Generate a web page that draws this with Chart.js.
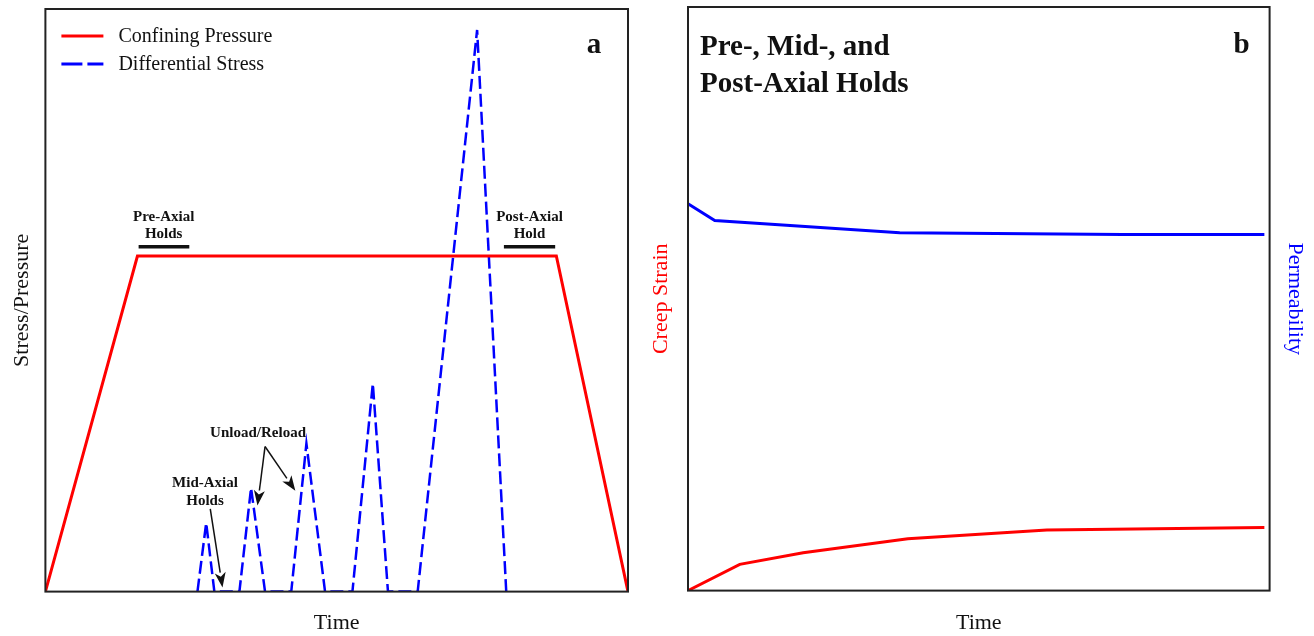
<!DOCTYPE html>
<html>
<head>
<meta charset="utf-8">
<script src="https://cdn.jsdelivr.net/npm/chart.js@4.4.1/dist/chart.umd.min.js"></script>
<style>
  html, body { margin: 0; padding: 0; background: #fff; }
  #wrapA { position: absolute; left: 0; top: 0; width: 640px; height: 636px; }
  #wrapB { position: absolute; left: 640px; top: 0; width: 674px; height: 636px; }
</style>
</head>
<body>
<div id="wrapA"><canvas id="chartA"></canvas></div>
<div id="wrapB"><canvas id="chartB"></canvas></div>
<script>
// panel a: loading path (time and stress in arbitrary units, 0-100)
const confiningTime = [0, 15.8, 87.7, 100];
const confiningPressure = [0, 57.6, 57.6, 0];
const diffTime = [26.1, 27.6, 29.0, 33.3, 35.3, 37.7, 42.2, 44.8, 48.0, 52.7, 56.2, 58.8, 63.9, 74.1, 79.1];
const diffStress = [0, 11.8, 0, 0, 17.8, 0, 0, 25.4, 0, 0, 35.7, 0, 0, 96.4, 0];

// panel b: creep strain and permeability against time
const creepTime = [0, 8.9, 19.8, 37.8, 61.7, 99.1];
const creepStrain = [0, 4.5, 6.5, 8.9, 10.4, 10.8];
const permTime = [0, 4.6, 36.4, 74.7, 99.1];
const permeability = [66.3, 63.4, 61.3, 61.0, 61.0];

const SERIF = "'Liberation Serif', 'Times New Roman', serif";
const RED = "#ff0000";
const BLUE = "#0000ff";

function toPoints(xs, ys) {
  return xs.map((x, i) => ({ x: x, y: ys[i] }));
}

// frame around the plot area
const framePlugin = {
  id: "frame",
  afterDraw(chart) {
    const a = chart.chartArea;
    const ctx = chart.ctx;
    ctx.save();
    ctx.strokeStyle = "#222";
    ctx.lineWidth = 2;
    ctx.strokeRect(a.left, a.top, a.right - a.left, a.bottom - a.top);
    ctx.restore();
  }
};

function arrow(ctx, x1, y1, x2, y2) {
  const ang = Math.atan2(y2 - y1, x2 - x1);
  const len = 15, half = 5.5;
  const bx = x2 - len * Math.cos(ang), by = y2 - len * Math.sin(ang);
  ctx.beginPath();
  ctx.moveTo(x1, y1);
  ctx.lineTo(bx, by);
  ctx.stroke();
  ctx.beginPath();
  ctx.moveTo(x2, y2);
  ctx.lineTo(bx + half * Math.sin(ang), by - half * Math.cos(ang));
  ctx.lineTo(x2 - (len - 4) * Math.cos(ang), y2 - (len - 4) * Math.sin(ang));
  ctx.lineTo(bx - half * Math.sin(ang), by + half * Math.cos(ang));
  ctx.closePath();
  ctx.fill();
}

// labels, hold bars, arrows and legend of panel a
const notesA = {
  id: "notesA",
  afterDatasetsDraw(chart) {
    const ctx = chart.ctx;
    const sx = chart.scales.x, sy = chart.scales.y;
    const a = chart.chartArea;
    const X = v => sx.getPixelForValue(v);
    const Y = v => sy.getPixelForValue(v);
    ctx.save();

    // legend
    const ds = chart.data.datasets;
    ctx.font = "20px " + SERIF;
    ctx.textBaseline = "middle";
    ctx.textAlign = "left";
    [[ds[0], 27], [ds[1], 55]].forEach(([d, dy]) => {
      ctx.strokeStyle = d.borderColor;
      ctx.lineWidth = 3;
      ctx.setLineDash(d.borderDash ? [21, 5] : []);
      ctx.beginPath();
      ctx.moveTo(a.left + 16, a.top + dy);
      ctx.lineTo(a.left + 58, a.top + dy);
      ctx.stroke();
      ctx.setLineDash([]);
      ctx.fillStyle = "#111";
      ctx.fillText(d.label, a.left + 73, a.top + dy + 1);
    });

    // panel letter
    ctx.font = "bold 29px " + SERIF;
    ctx.textAlign = "center";
    ctx.textBaseline = "alphabetic";
    ctx.fillText("a", a.right - 34, a.top + 44);

    // hold labels
    ctx.font = "bold 15px " + SERIF;
    ctx.fillStyle = "#111";
    ctx.fillText("Pre-Axial", X(20.3), Y(63.6));
    ctx.fillText("Holds", X(20.3), Y(60.7));
    ctx.fillText("Post-Axial", X(83.1), Y(63.6));
    ctx.fillText("Hold", X(83.1), Y(60.7));
    ctx.fillText("Mid-Axial", X(27.4), Y(18.0));
    ctx.fillText("Holds", X(27.4), Y(14.8));
    ctx.fillText("Unload/Reload", X(36.5), Y(26.6));

    ctx.strokeStyle = "#111";
    ctx.lineWidth = 3.5;
    ctx.beginPath();
    ctx.moveTo(X(16.0), Y(59.2)); ctx.lineTo(X(24.7), Y(59.2));
    ctx.moveTo(X(78.7), Y(59.2)); ctx.lineTo(X(87.5), Y(59.2));
    ctx.stroke();

    ctx.lineWidth = 1.5;
    ctx.fillStyle = "#111";
    arrow(ctx, X(28.3), Y(14.2), X(30.4), Y(0.7));
    arrow(ctx, X(37.7), Y(24.9), X(36.4), Y(14.8));
    arrow(ctx, X(37.7), Y(24.9), X(42.9), Y(17.3));
    ctx.restore();
  }
};

// title block and letter of panel b
const notesB = {
  id: "notesB",
  afterDatasetsDraw(chart) {
    const ctx = chart.ctx;
    const a = chart.chartArea;
    ctx.save();
    ctx.fillStyle = "#111";
    ctx.font = "bold 29px " + SERIF;
    ctx.textBaseline = "alphabetic";
    ctx.textAlign = "left";
    ctx.fillText("Pre-, Mid-, and", a.left + 12, a.top + 48);
    ctx.fillText("Post-Axial Holds", a.left + 12, a.top + 85);
    ctx.textAlign = "center";
    ctx.fillText("b", a.right - 28, a.top + 46);
    ctx.restore();
  }
};

function hiddenAxis(extra) {
  return Object.assign({
    type: "linear",
    min: 0,
    max: 100,
    grid: { display: false, drawTicks: false },
    border: { display: false },
    ticks: { display: false }
  }, extra);
}

Chart.defaults.font.family = SERIF;
Chart.defaults.animation = false;

new Chart(document.getElementById("chartA"), {
  type: "line",
  data: {
    datasets: [
      {
        label: "Confining Pressure",
        data: toPoints(confiningTime, confiningPressure),
        borderColor: RED,
        borderWidth: 3,
        pointRadius: 0,
        tension: 0
      },
      {
        label: "Differential Stress",
        data: toPoints(diffTime, diffStress),
        borderColor: BLUE,
        borderWidth: 2.5,
        borderDash: [13, 5],
        pointRadius: 0,
        tension: 0
      }
    ]
  },
  options: {
    responsive: true,
    maintainAspectRatio: false,
    layout: { padding: { left: 5, right: 12, top: 9, bottom: 0 } },
    plugins: { legend: { display: false }, tooltip: { enabled: false } },
    scales: {
      x: hiddenAxis({
        title: { display: true, text: "Time", color: "#111", font: { size: 22 }, padding: { top: 18, bottom: 0 } }
      }),
      y: hiddenAxis({
        title: { display: true, text: "Stress/Pressure", color: "#111", font: { size: 22 }, padding: { top: 4, bottom: 10 } }
      })
    }
  },
  plugins: [framePlugin, notesA]
});

new Chart(document.getElementById("chartB"), {
  type: "line",
  data: {
    datasets: [
      {
        label: "Creep Strain",
        data: toPoints(creepTime, creepStrain),
        borderColor: RED,
        borderWidth: 3,
        pointRadius: 0,
        tension: 0,
        yAxisID: "y"
      },
      {
        label: "Permeability",
        data: toPoints(permTime, permeability),
        borderColor: BLUE,
        borderWidth: 3,
        pointRadius: 0,
        tension: 0,
        yAxisID: "y2"
      }
    ]
  },
  options: {
    responsive: true,
    maintainAspectRatio: false,
    layout: { padding: { left: 4, right: 0, top: 7, bottom: 0 } },
    plugins: { legend: { display: false }, tooltip: { enabled: false } },
    scales: {
      x: hiddenAxis({
        title: { display: true, text: "Time", color: "#111", font: { size: 22 }, padding: { top: 19, bottom: 0 } }
      }),
      y: hiddenAxis({
        position: "left",
        title: { display: true, text: "Creep Strain", color: RED, font: { size: 22 }, padding: { top: 4, bottom: 13.6 } }
      }),
      y2: hiddenAxis({
        position: "right",
        title: { display: true, text: "Permeability", color: BLUE, font: { size: 22 }, padding: { top: 6, bottom: 12 } }
      })
    }
  },
  plugins: [framePlugin, notesB]
});
</script>
</body>
</html>
